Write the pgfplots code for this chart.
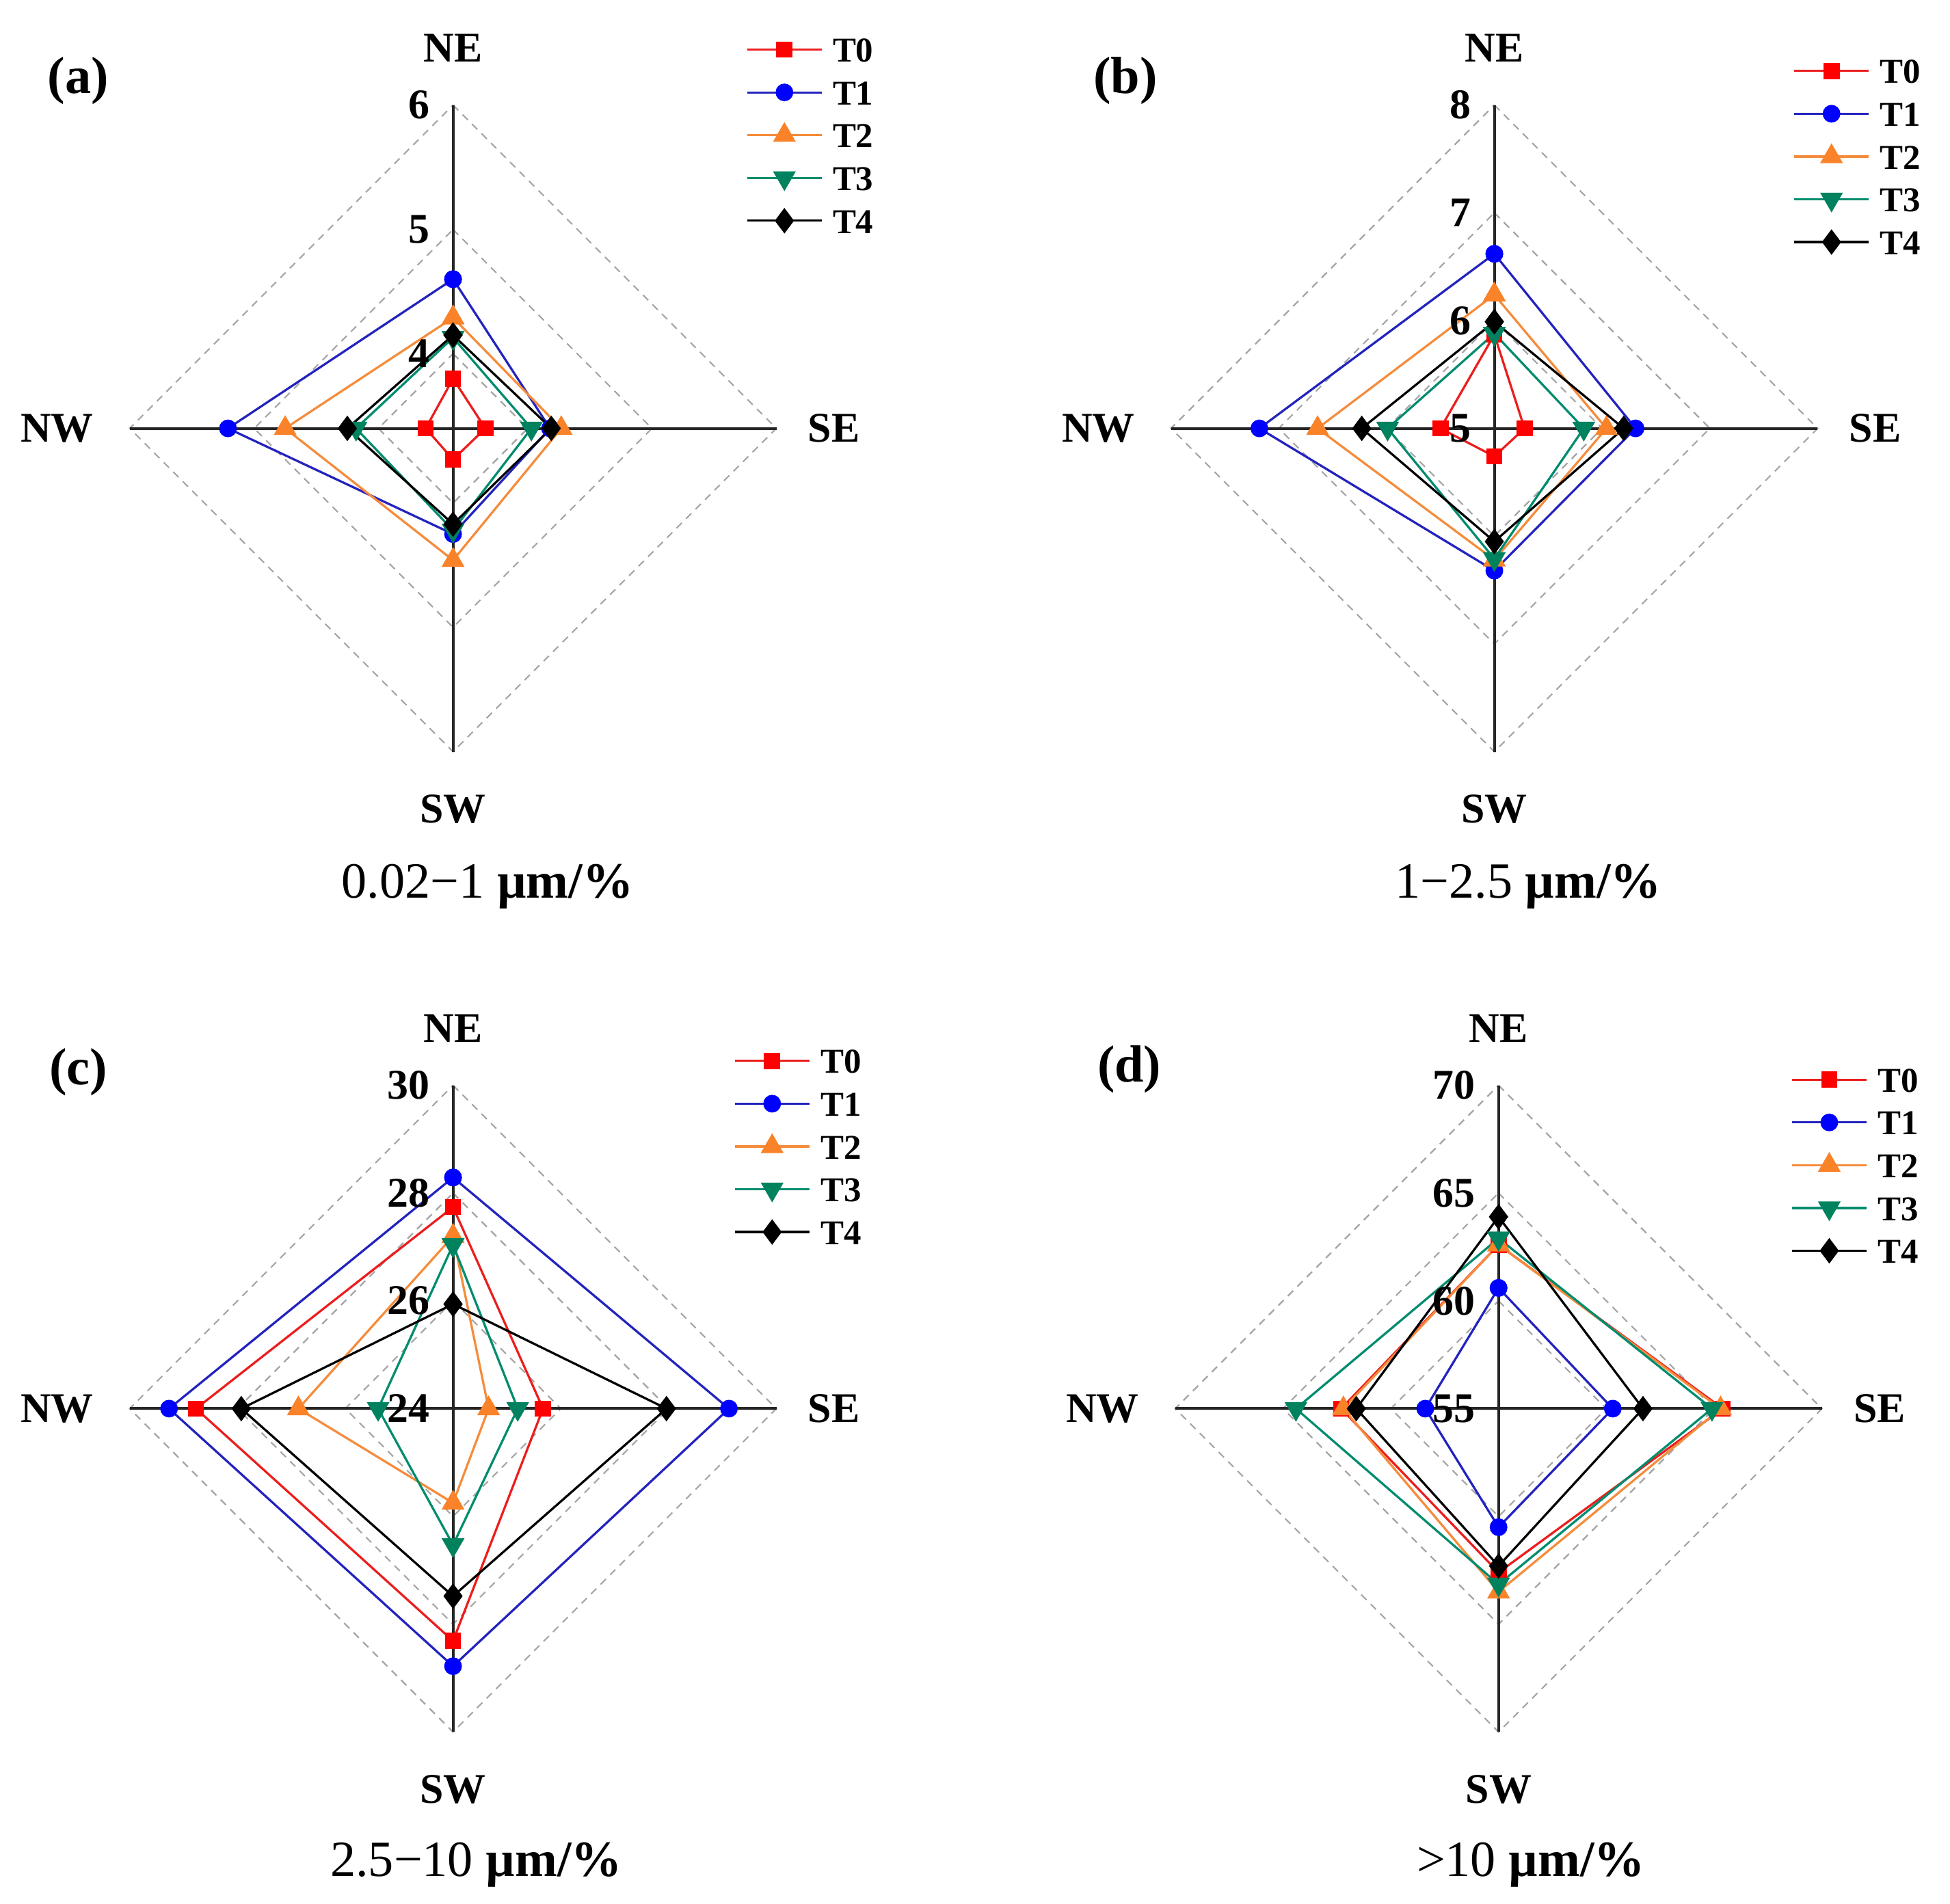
\documentclass[border=0pt]{standalone}
\usepackage{fontspec}
\setmainfont{Liberation Serif}
\usepackage{pgfplots}
\usepackage{pgfplotstable}
\pgfplotsset{compat=1.18}

\definecolor{cR}{RGB}{235,30,30}
\definecolor{cRm}{RGB}{255,0,0}
\definecolor{cB}{RGB}{35,35,190}
\definecolor{cBm}{RGB}{0,0,255}
\definecolor{cO}{RGB}{245,140,60}
\definecolor{cOm}{RGB}{250,130,40}
\definecolor{cG}{RGB}{0,140,110}
\definecolor{cGm}{RGB}{0,130,95}
\definecolor{gridgray}{RGB}{165,165,165}

% columns: dx dy give the direction (NE up, SE right, SW down, NW left)
\pgfplotstableread{
dx dy T0 T1 T2 T3 T4
0 1 3.80 4.60 4.29 4.13 4.15
1 0 3.66 4.18 4.27 4.03 4.19
0 -1 3.65 4.25 4.46 4.22 4.17
-1 0 3.62 5.21 4.75 4.18 4.25
0 1 3.80 4.60 4.29 4.13 4.15
}\tabA
\pgfplotstableread{
dx dy T0 T1 T2 T3 T4
0 1 5.87 6.62 6.24 5.88 5.99
1 0 5.28 6.31 6.04 5.83 6.20
0 -1 5.26 6.32 6.22 6.21 6.05
-1 0 5.50 7.18 6.64 5.99 6.23
0 1 5.87 6.62 6.24 5.88 5.99
}\tabB
\pgfplotstableread{
dx dy T0 T1 T2 T3 T4
0 1 27.74 28.29 27.20 27.04 25.94
1 0 25.67 29.12 24.66 25.20 27.96
0 -1 28.31 28.78 25.75 26.53 27.48
-1 0 28.77 29.27 26.87 25.39 27.93
0 1 27.74 28.29 27.20 27.04 25.94
}\tabC
\pgfplotstableread{
dx dy T0 T1 T2 T3 T4
0 1 62.6 60.6 62.6 62.9 63.9
1 0 65.4 60.3 65.3 64.9 61.7
0 -1 62.6 60.5 63.5 63.15 62.3
-1 0 62.3 58.4 62.2 64.4 61.6
0 1 62.6 60.6 62.6 62.9 63.9
}\tabD

\pgfplotsset{
 s0/.style={color=cR, line width=0.45pt, mark=square*, mark size=1.4pt, mark options={solid, fill=cRm, draw=cRm}},
 s1/.style={color=cB, line width=0.45pt, mark=*, mark size=1.55pt, mark options={solid, fill=cBm, draw=cBm}},
 s2/.style={color=cO, line width=0.45pt, mark=triangle*, mark size=2.2pt, mark options={solid, fill=cOm, draw=cOm}},
 s3/.style={color=cG, line width=0.45pt, mark=triangle*, mark size=2.2pt, mark options={solid, rotate=180, fill=cGm, draw=cGm}},
 s4/.style={color=black, line width=0.45pt, mark=diamond*, mark size=2.2pt, mark options={solid, fill=black, draw=black}},
 radar/.style={width=130pt, height=130pt, scale only axis,
   xmin=-1, xmax=1, ymin=-1, ymax=1, axis lines=none, clip=false, anchor=center,
   legend cell align=left,
   legend image code/.code={\draw[mark repeat=2,mark phase=2,##1] plot coordinates {(0pt,0pt) (7.5pt,0pt) (15pt,0pt)};},
   legend style={draw=none, fill=none, anchor=north west, inner sep=0pt, outer sep=0pt,
     row sep=3.6pt, column sep=2pt, font=\bfseries\fontsize{7}{8}\selectfont,
     nodes={inner sep=0pt, text height=5pt, text depth=0pt, anchor=west}}},
}
\tikzset{
 gridline/.style={draw=gridgray, line width=0.3pt, dash pattern=on 1.5pt off 1.2pt},
 axline/.style={draw=black!85, line width=0.55pt},
 ticklab/.style={anchor=east, inner sep=0pt, xshift=-4.5pt, font=\bfseries\fontsize{8.5}{10}\selectfont},
 dirlab/.style={inner sep=0pt, font=\bfseries\fontsize{8.5}{10}\selectfont},
 panlab/.style={inner sep=0pt, font=\bfseries\fontsize{10.5}{12}\selectfont},
 sublab/.style={inner sep=0pt, font=\fontsize{10.2}{12}\selectfont},
}
\newcommand{\rplot}[5]{\addplot[#1] table[x expr={\thisrow{dx}*(\thisrow{#3}-#4)/#5}, y expr={\thisrow{dy}*(\thisrow{#3}-#4)/#5}] {#2};}
\newcommand{\dgrid}[1]{\draw[gridline] (axis cs:0,#1) -- (axis cs:#1,0) -- (axis cs:0,-#1) -- (axis cs:-#1,0) -- cycle;}
\newcommand{\cross}{\draw[axline] (axis cs:-1,0) -- (axis cs:1,0); \draw[axline] (axis cs:0,-1) -- (axis cs:0,1);}
\newcommand{\dirs}{%
 \node[dirlab] at (axis cs:0,1.177) {NE};
 \node[dirlab] at (axis cs:1.178,0) {SE};
 \node[dirlab] at (axis cs:0,-1.177) {SW};
 \node[dirlab] at (axis cs:-1.225,0) {NW};}

\begin{document}
\begin{tikzpicture}[x=0.25pt, y=-0.25pt]
\path (0,0) rectangle (1568,1531);
\coordinate (ca) at (364.3,344.5);
\coordinate (cb) at (1201.6,344.5);
\coordinate (cc) at (364.3,1132.8);
\coordinate (cd) at (1205,1132.8);

% (a)
\begin{axis}[radar, at={(ca)}, legend style={at={(0.953,1.105)}}]
\dgrid{1}\dgrid{0.615}\dgrid{0.231}
\cross
\rplot{s0}{\tabA}{T0}{3.4}{2.6}
\rplot{s1}{\tabA}{T1}{3.4}{2.6}
\rplot{s2}{\tabA}{T2}{3.4}{2.6}
\rplot{s3}{\tabA}{T3}{3.4}{2.6}
\rplot{s4}{\tabA}{T4}{3.4}{2.6}
\node[ticklab] at (axis cs:0,1) {6};
\node[ticklab] at (axis cs:0,0.615) {5};
\node[ticklab] at (axis cs:0,0.231) {4};
\dirs
\node[panlab] at (axis cs:-1.159,1.075) {(a)};
\node[sublab] at (axis cs:0.107,-1.417) {0.02−1 \textbf{µm/\%}};
\legend{T0,T1,T2,T3,T4}
\end{axis}

% (b)
\begin{axis}[radar, at={(cb)}, legend style={at={(0.962,1.072)}}]
\dgrid{1}\dgrid{0.6667}\dgrid{0.3333}
\cross
\rplot{s0}{\tabB}{T0}{5}{3}
\rplot{s1}{\tabB}{T1}{5}{3}
\rplot{s2}{\tabB}{T2}{5}{3}
\rplot{s3}{\tabB}{T3}{5}{3}
\rplot{s4}{\tabB}{T4}{5}{3}
\node[ticklab] at (axis cs:0,1) {8};
\node[ticklab] at (axis cs:0,0.6667) {7};
\node[ticklab] at (axis cs:0,0.3333) {6};
\node[ticklab] at (axis cs:0,0) {5};
\dirs
\node[panlab] at (axis cs:-1.141,1.075) {(b)};
\node[sublab] at (axis cs:0.105,-1.417) {1−2.5 \textbf{µm/\%}};
\legend{T0,T1,T2,T3,T4}
\end{axis}

% (c)
\begin{axis}[radar, at={(cc)}, legend style={at={(0.934,1.057)}}]
\dgrid{1}\dgrid{0.6667}\dgrid{0.3333}
\cross
\rplot{s0}{\tabC}{T0}{24}{6}
\rplot{s1}{\tabC}{T1}{24}{6}
\rplot{s2}{\tabC}{T2}{24}{6}
\rplot{s3}{\tabC}{T3}{24}{6}
\rplot{s4}{\tabC}{T4}{24}{6}
\node[ticklab] at (axis cs:0,1) {30};
\node[ticklab] at (axis cs:0,0.6667) {28};
\node[ticklab] at (axis cs:0,0.3333) {26};
\node[ticklab] at (axis cs:0,0) {24};
\dirs
\node[panlab] at (axis cs:-1.159,1.042) {(c)};
\node[sublab] at (axis cs:0.072,-1.412) {2.5−10 \textbf{µm/\%}};
\legend{T0,T1,T2,T3,T4}
\end{axis}

% (d)
\begin{axis}[radar, at={(cd)}, legend style={at={(0.952,1.028)}}]
\dgrid{1}\dgrid{0.6667}\dgrid{0.3333}
\cross
\rplot{s0}{\tabD}{T0}{55}{15}
\rplot{s1}{\tabD}{T1}{55}{15}
\rplot{s2}{\tabD}{T2}{55}{15}
\rplot{s3}{\tabD}{T3}{55}{15}
\rplot{s4}{\tabD}{T4}{55}{15}
\node[ticklab] at (axis cs:0,1) {70};
\node[ticklab] at (axis cs:0,0.6667) {65};
\node[ticklab] at (axis cs:0,0.3333) {60};
\node[ticklab] at (axis cs:0,0) {55};
\dirs
\node[panlab] at (axis cs:-1.142,1.049) {(d)};
\node[sublab] at (axis cs:0.1,-1.412) {>10 \textbf{µm/\%}};
\legend{T0,T1,T2,T3,T4}
\end{axis}
\end{tikzpicture}
\end{document}
